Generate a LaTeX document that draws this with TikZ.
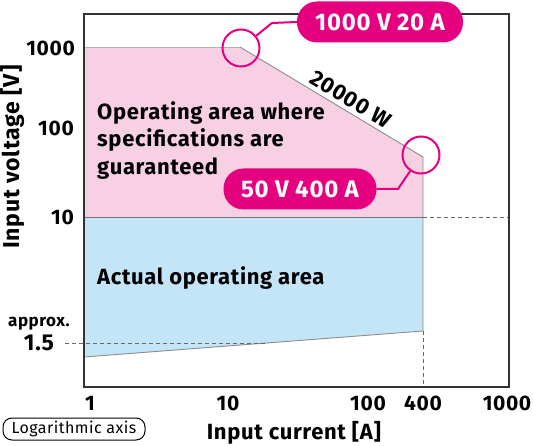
\documentclass[tikz,border=0pt]{standalone}
\usepackage{fontspec}
\setmainfont{Fira Sans}[LetterSpace=3]
\usetikzlibrary{positioning}
\definecolor{areapink}{HTML}{F8D0E3}
\definecolor{areablue}{HTML}{C4E5F8}
\definecolor{callout}{HTML}{E4007F}
\newcommand{\fsz}[1]{\fontsize{#1}{27.5}\selectfont}
\begin{document}
\begin{tikzpicture}[x=1pt, y=-1pt, font=\bfseries\fsz{22}]
        \tikzstyle{label} = [inner sep=0pt]
        \tikzstyle{ticklabel} = [inner sep=0pt, font=\bfseries\fsz{21}]
        \tikzstyle{badge} = [fill=callout, text=white, rounded corners=20pt, minimum height=41pt, inner sep=0pt, font=\bfseries\fsz{24}]
        \tikzstyle{ring} = [draw=callout, line width=2pt, circle, minimum size=37pt, inner sep=0pt]
        \tikzstyle{leader} = [draw=callout, line width=2pt]
        \tikzstyle{guide} = [draw=black!60, line width=0.8pt, dash pattern=on 4pt off 3pt]
        \tikzstyle{edgeline} = [draw=black!45, line width=0.9pt]
        \useasboundingbox (0,0) rectangle (533,446);
        % corners of the areas
        \coordinate (topL) at (84,47);
        \coordinate (kneeA) at (240,47);
        \coordinate (kneeB) at (423,157);
        \coordinate (midR) at (423,217);
        \coordinate (midL) at (84,217);
        \coordinate (lowR) at (423,331);
        \coordinate (lowL) at (84,357);
        \coordinate (baseR) at (423,387);
        \coordinate (frameR) at (509,217);
        \coordinate (approxL) at (65,343);
        \coordinate (approxR) at (268,343);
        \fill[areapink] (topL) -- (kneeA) -- (kneeB) -- (midR) -- (midL) -- cycle;
        \fill[areablue] (midL) -- (midR) -- (lowR) -- (lowL) -- cycle;
        \draw[edgeline, draw=black!30] (topL) -- (kneeA);
        \draw[edgeline] (kneeA) -- node[sloped, above=4pt, pos=0.57, label] {20000 W} (kneeB) -- (midR) -- (lowR) -- (lowL);
        \draw[edgeline, draw=black!55] (midL) -- (midR);
        \path[guide] (midR) edge (frameR) (lowR) edge (baseR) (approxL) edge (approxR);
        \draw[line width=1.8pt, black!80] (84,14) rectangle (509,387);
        % area texts
        \node[label, anchor=north west, align=left] (specText) at (97,101) {Operating area where\\specifications are\\guaranteed};
        \node[label, anchor=base west] (actualText) at (97,285) {Actual operating area};
        % callouts
        \node[ring] (ringA) at (241,48) {};
        \node[ring] (ringB) at (421,155) {};
        \node[badge, minimum width=166pt] (badgeA) at (380,22) {1000 V 20 A};
        \node[badge, minimum width=153pt] (badgeB) at (300,189) {50 V 400 A};
        \draw[leader] (ringA) -- (272,23) -- (badgeA.west);
        \draw[leader] (badgeB.east) -- (398,189) -- (ringB);
        % axis labels
        \node[ticklabel, anchor=east] (v1000) at (75,48) {1000};
        \node[ticklabel, anchor=east] (v100) at (74,128) {100};
        \node[ticklabel, anchor=east] (v10) at (74,217) {10};
        \node[label, font=\bfseries\fsz{17}] (vApprox) at (39,324) {approx.};
        \node[label, font=\bfseries\fsz{23}] (v15) at (39,343) {1.5};
        \node[ticklabel] (a1) at (90,403) {1};
        \node[ticklabel] (a10) at (228,403) {10};
        \node[ticklabel] (a100) at (368,403) {100};
        \node[ticklabel] (a400) at (423,403) {400};
        \node[ticklabel] (a1000) at (507,403) {1000};
        \node[label] (xTitle) at (294,433) {Input current [A]};
        \node[label, rotate=90, font=\bfseries\fsz{23}] (yTitle) at (13,157) {Input voltage [V]};
        \node[draw, line width=1pt, rounded corners=9pt, minimum width=142pt, minimum height=22pt, inner sep=0pt, font=\fsz{16}] (logNote) at (74,429) {Logarithmic axis};
\end{tikzpicture}
\end{document}
